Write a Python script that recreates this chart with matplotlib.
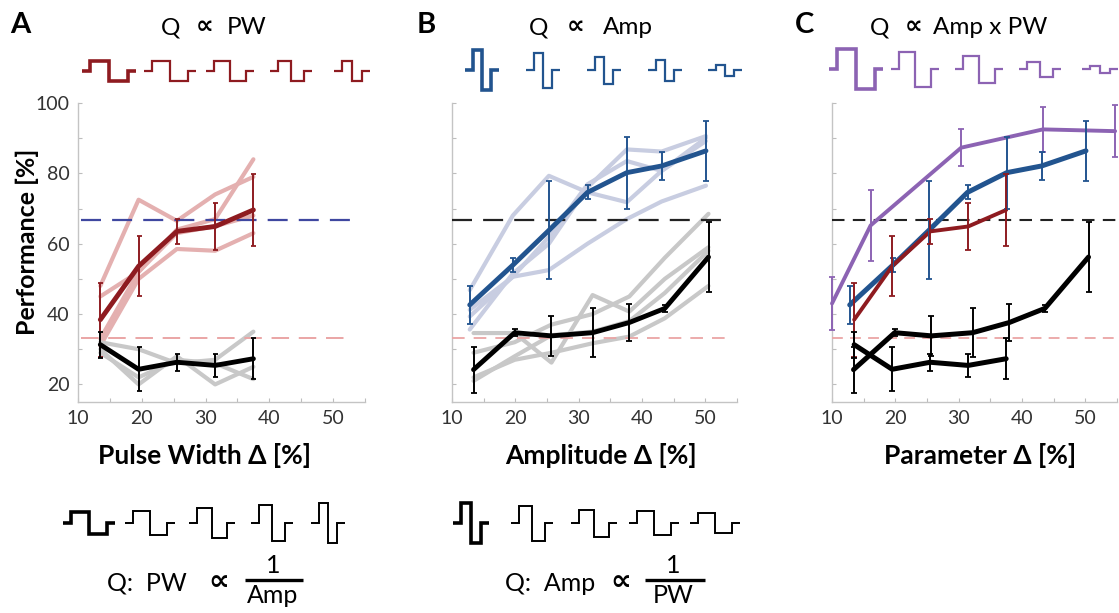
import matplotlib
matplotlib.use('Agg')
import matplotlib.pyplot as plt

FONT = ['Lato', 'DejaVu Sans']
plt.rcParams['font.family'] = FONT

# ---------------- data ----------------
# Panel A: Q proportional to pulse width
pw_x = [13.5, 19.5, 25.5, 31.5, 37.5]
pw_mean = [38.4, 53.6, 63.5, 64.9, 69.6]
pw_err = [10.5, 8.5, 3.5, 6.6, 10.2]
pw_subj1 = [48, 72.5, 66.5, 74, 79]
pw_subj2 = [33, 52, 64, 67, 84]
pw_subj3 = [31, 50, 58.5, 58, 63]
pw_subj4 = [45, 52, 63, 65, 68]
pwq_mean = [31.3, 24.3, 26.3, 25.4, 27.3]
pwq_err = [3.7, 6.2, 2.4, 3.2, 5.8]
pwq_subj1 = [32, 30, 26, 27, 35]
pwq_subj2 = [30, 20, 28, 20, 25]
pwq_subj3 = [29, 22, 27, 26, 21.5]

# Panel B: Q proportional to amplitude
amp_x = [12.8, 19.6, 25.3, 31.4, 37.6, 43.1, 50.1]
amp_mean = [42.6, 53.9, 63.8, 74.6, 80.2, 82.1, 86.4]
amp_err = [5.3, 2.0, 13.9, 2.0, 10.2, 3.9, 8.6]
amp_subj1 = [46.8, 68, 79.3, 74.6, 71.8, 80.7, 90.1]
amp_subj2 = [35.6, 51.5, 60, 76, 86.8, 86.2, 90.6]
amp_subj3 = [39.3, 50.6, 52.5, 60, 67, 72, 76.5]
amp_subj4 = [41.2, 50.6, 61.9, 76.9, 83.5, 80.7, 89.2]
ampq_x = [13.4, 19.9, 25.7, 32.2, 38.0, 43.6, 50.5]
ampq_mean = [24.2, 34.7, 33.8, 34.7, 37.6, 41.6, 56.2]
ampq_err = [6.5, 1.0, 5.6, 7.0, 5.2, 1.0, 10.0]
ampq_subj1 = [34.6, 34.6, 26.2, 45.4, 40.7, 50, 59]
ampq_subj2 = [29, 32, 37, 40, 45, 56, 68.5]
ampq_subj3 = [22, 27, 29, 31.7, 33.6, 38.8, 48]
ampq_subj4 = [21, 28, 34, 35, 38, 46, 58]

# Panel C: Q proportional to amp x PW
q_x = [10.0, 16.1, 30.4, 43.3, 54.7]
q_mean = [43.0, 65.2, 87.3, 92.5, 92.0]
q_err = [7.4, 10.0, 5.2, 6.4, 7.4]

chance_hi = 66.7
chance_lo = 33.3

# pulse glyph parameters (pixels): centers, phase widths, amplitudes
gA_top_c = [109, 170, 230, 291, 352]
gA_top_w = [19, 18, 16, 13, 10]
gA_top_a = [10, 10, 10, 10, 10]
gB_top_c = [482, 543, 604, 665, 725]
gB_top_w = [9, 9, 9, 9, 9]
gB_top_a = [20, 17.5, 13.5, 10.5, 5.5]
gC_top_c = [856, 915, 979, 1040, 1100]
gC_top_w = [19, 16, 16, 13, 10]
gC_top_a = [20, 17.5, 13.5, 7.5, 3.5]
gA_bot_c = [89, 150, 212, 272, 328]
gA_bot_w = [18, 17, 15, 13, 9]
gA_bot_a = [11, 12, 15, 18, 20]
gB_bot_c = [471, 532, 594, 654, 715]
gB_bot_w = [10, 13, 15, 17, 17]
gB_bot_a = [20, 17.5, 13.5, 12, 10]

# ---------------- colours ----------------
RED = '#8e1b20'
PINK = '#e4b0b0'
BLUE = '#22548f'
LBLUE = '#c8cde1'
GRAY = '#c8c8c8'
BLACK = '#000000'
PURPLE = '#8c63b3'
DASH_BLUE = '#3f47a0'
DASH_PINK = '#eaa5a5'

W, H = 1119, 613
fig = plt.figure(figsize=(W / 100, H / 100), dpi=100)


def add_ax(left, right, top=103, bottom=402):
    return fig.add_axes([left / W, 1 - bottom / H, (right - left) / W, (bottom - top) / H])


def style(ax, ylabels):
    ax.set_xlim(10, 55)
    ax.set_ylim(15, 100)
    for s in ['top', 'right']:
        ax.spines[s].set_visible(False)
    for s in ['left', 'bottom']:
        ax.spines[s].set_color('#c4c4c4')
        ax.spines[s].set_linewidth(1)
    ax.set_xticks([10, 20, 30, 40, 50])
    ax.set_xticks([15, 25, 35, 45, 55], minor=True)
    ax.set_yticks([20, 40, 60, 80, 100])
    ax.set_yticks([30, 50, 70, 90], minor=True)
    ax.tick_params(which='both', direction='in', length=3, width=0.8, color='#bdbdbd',
                   labelsize=14, labelcolor='#333333')
    ax.tick_params(axis='x', pad=6)
    ax.tick_params(axis='y', pad=6)
    if not ylabels:
        ax.set_yticklabels([])
    ax.patch.set_alpha(0)


def mean_line(ax, x, y, e, color, lw=3.5, z=5, cap=1.8):
    ax.plot(x, y, color=color, lw=lw, zorder=z, solid_capstyle='round', solid_joinstyle='round',
            clip_on=False)
    ax.errorbar(x, y, yerr=e, fmt='none', ecolor=color, elinewidth=1.4, capsize=cap,
                capthick=1.3, zorder=z + 0.1, clip_on=False)


def subj_lines(ax, x, lines, color, lw=3.0, z=2):
    for yy in lines:
        ax.plot(x, yy, color=color, lw=lw, zorder=z, solid_joinstyle='round',
                solid_capstyle='round')


axA = add_ax(78, 365)
axB = add_ax(452, 737)
axC = add_ax(832, 1117)
style(axA, True)
style(axB, False)
style(axC, False)

# Panel A
subj_lines(axA, pw_x, [pw_subj1, pw_subj2, pw_subj3, pw_subj4], PINK)
subj_lines(axA, pw_x, [pwq_subj1, pwq_subj2, pwq_subj3], GRAY)
axA.axhline(chance_hi, xmin=0.01, xmax=0.955, color=DASH_BLUE, lw=1.6, dashes=(9, 5), zorder=3)
axA.axhline(chance_lo, xmin=0.01, xmax=0.955, color=DASH_PINK, lw=1.4, dashes=(9, 5), zorder=3)
mean_line(axA, pw_x, pw_mean, pw_err, RED)
mean_line(axA, pw_x, pwq_mean, pwq_err, BLACK)

# Panel B
subj_lines(axB, amp_x, [amp_subj1, amp_subj2, amp_subj3, amp_subj4], LBLUE)
subj_lines(axB, ampq_x, [ampq_subj1, ampq_subj2, ampq_subj3, ampq_subj4], GRAY)
axB.axhline(chance_hi, xmin=0.0, xmax=0.965, color='#222222', lw=1.6, dashes=(9, 5), zorder=3)
axB.axhline(chance_lo, xmin=0.0, xmax=0.965, color=DASH_PINK, lw=1.3, dashes=(7, 5), zorder=3)
mean_line(axB, amp_x, amp_mean, amp_err, BLUE, cap=2.2)
mean_line(axB, ampq_x, ampq_mean, ampq_err, BLACK, cap=2.2)

# Panel C
axC.axhline(chance_hi, xmin=0.0, xmax=1.0, color='#222222', lw=1.5, dashes=(6, 4), zorder=3)
axC.axhline(chance_lo, xmin=0.0, xmax=1.0, color=DASH_PINK, lw=1.3, dashes=(6, 4), zorder=3)
mean_line(axC, q_x, q_mean, q_err, PURPLE, lw=2.8, cap=2.2)
mean_line(axC, amp_x, amp_mean, amp_err, BLUE, lw=3.6, cap=2.0)
mean_line(axC, pw_x, pw_mean, pw_err, RED, lw=2.8, cap=2.0)
mean_line(axC, ampq_x, ampq_mean, ampq_err, BLACK, lw=3.6, cap=2.0)
mean_line(axC, pw_x, pwq_mean, pwq_err, BLACK, lw=3.6, cap=2.0)

# ---------------- overlay: text and pulse glyphs ----------------
ov = fig.add_axes([0, 0, 1, 1])
ov.set_xlim(0, W)
ov.set_ylim(H, 0)
ov.axis('off')
ov.set_zorder(-1)


def pulse_row(cs, ws, as_, y0, color, lw_first, lw_rest, lead=8):
    for i, (cx, w, a) in enumerate(zip(cs, ws, as_)):
        xs = [cx - w - lead, cx - w, cx - w, cx, cx, cx + w, cx + w, cx + w + lead]
        ys = [y0, y0, y0 - a, y0 - a, y0 + a, y0 + a, y0, y0]
        ov.plot(xs, ys, color=color, lw=lw_first if i == 0 else lw_rest,
                solid_joinstyle='miter', solid_capstyle='butt', clip_on=False)


pulse_row(gA_top_c, gA_top_w, gA_top_a, 71, RED, 2.6, 1.6)
pulse_row(gB_top_c, gB_top_w, gB_top_a, 70, BLUE, 2.6, 1.6)
pulse_row(gC_top_c, gC_top_w, gC_top_a, 69, PURPLE, 2.6, 1.6)
pulse_row(gA_bot_c, gA_bot_w, gA_bot_a, 523, BLACK, 2.6, 1.4)
pulse_row(gB_bot_c, gB_bot_w, gB_bot_a, 523, BLACK, 2.6, 1.4)

# panel letters
for lx, lt in [(20, 'A'), (426, 'B'), (805, 'C')]:
    ov.text(lx, 33, lt, ha='center', va='baseline', fontsize=21, fontweight='bold')


def prop_title(qx, px, rx, rest, y=34, size=17.5):
    ov.text(qx, y, 'Q', ha='center', va='baseline', fontsize=size)
    ov.text(px, y - 1, '∝', ha='center', va='baseline', fontsize=18, fontweight='bold',
            family='DejaVu Sans')
    ov.text(rx, y, rest, ha='left', va='baseline', fontsize=size)


prop_title(171, 205, 227, 'PW')
prop_title(539, 576, 603, 'Amp')
prop_title(880, 914, 933, 'Amp x PW')

# axis labels
ov.text(27, 242, 'Performance [%]', rotation=90, ha='center', va='center', fontsize=18,
        fontweight='bold')
ov.text(204, 455, 'Pulse Width Δ [%]', ha='center', va='center', fontsize=19, fontweight='bold')
ov.text(601, 455, 'Amplitude Δ [%]', ha='center', va='center', fontsize=19, fontweight='bold')
ov.text(980, 455, 'Parameter Δ [%]', ha='center', va='center', fontsize=19, fontweight='bold')

# bottom formulas
ov.text(107, 591, 'Q:  PW', ha='left', va='baseline', fontsize=18)
ov.text(219, 590, '∝', ha='center', va='baseline', fontsize=21, fontweight='bold', family='DejaVu Sans')
ov.text(273, 573, '1', ha='center', va='baseline', fontsize=18)
ov.plot([245, 303], [580, 580], color='black', lw=2.4, solid_capstyle='butt')
ov.text(273, 584, 'Amp', ha='center', va='top', fontsize=18)

ov.text(505, 591, 'Q:  Amp', ha='left', va='baseline', fontsize=18)
ov.text(621, 590, '∝', ha='center', va='baseline', fontsize=21, fontweight='bold', family='DejaVu Sans')
ov.text(673, 573, '1', ha='center', va='baseline', fontsize=18)
ov.plot([645, 705], [580, 580], color='black', lw=2.4, solid_capstyle='butt')
ov.text(673, 584, 'PW', ha='center', va='top', fontsize=18)

fig.savefig('out.png', dpi=100)
